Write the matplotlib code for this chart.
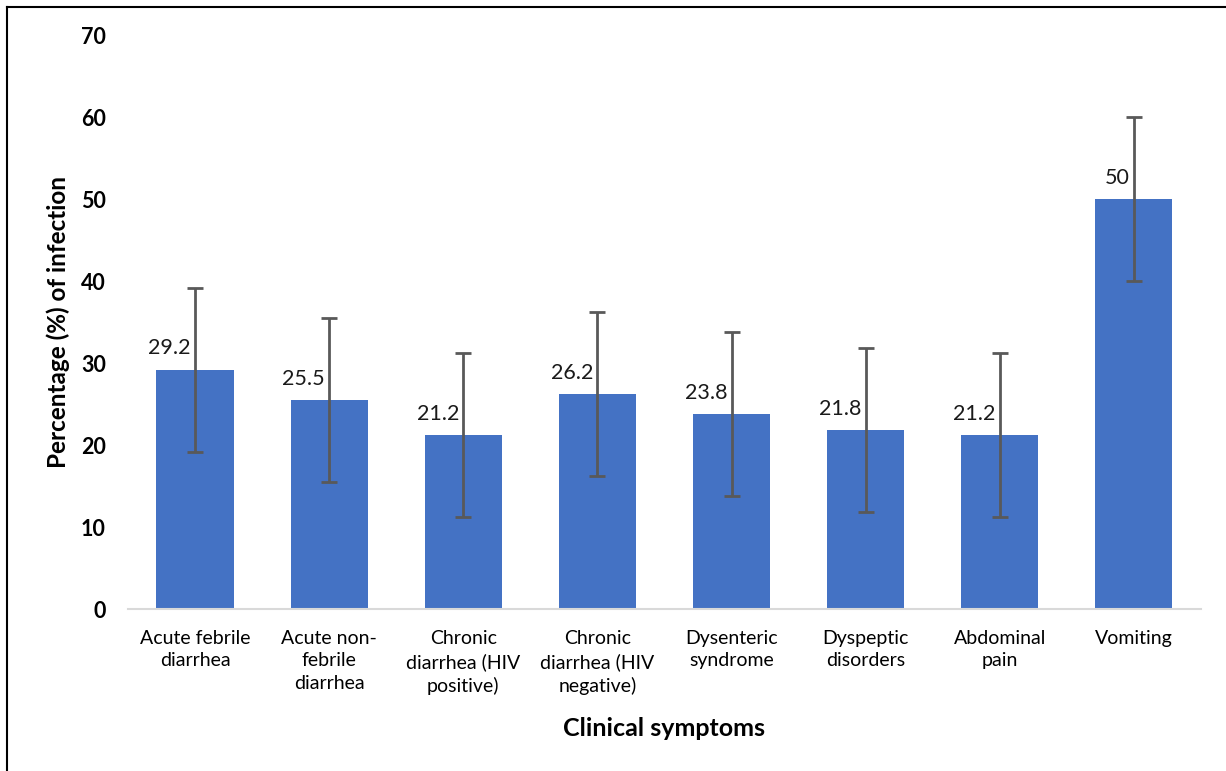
import matplotlib
matplotlib.use("Agg")
import matplotlib.pyplot as plt
from matplotlib.lines import Line2D
import numpy as np

categories = ["Acute febrile\ndiarrhea", "Acute non-\nfebrile\ndiarrhea",
              "Chronic\ndiarrhea (HIV\npositive)", "Chronic\ndiarrhea (HIV\nnegative)",
              "Dysenteric\nsyndrome", "Dyspeptic\ndisorders", "Abdominal\npain", "Vomiting"]
values = [29.2, 25.5, 21.2, 26.2, 23.8, 21.8, 21.2, 50]
errors = [10, 10, 10, 10, 10, 10, 10, 10]
value_labels = ["29.2", "25.5", "21.2", "26.2", "23.8", "21.8", "21.2", "50"]

plt.rcParams['font.family'] = ['Lato', 'DejaVu Sans']

fig = plt.figure(figsize=(12.26, 7.71), dpi=100)
ax = fig.add_axes([0.1044, 0.2101, 0.8752, 0.7445])

x = np.arange(len(categories))
ax.bar(x, values, width=0.575, color="#4472C4", zorder=2)
ax.errorbar(x, values, yerr=errors, fmt="none", ecolor="#595959",
            elinewidth=2, capsize=6, capthick=2, zorder=3)

for xi, v, lab in zip(x, values, value_labels):
    ax.annotate(lab, (xi, v), xytext=(-3, 8), textcoords="offset points",
                ha="right", va="bottom", fontsize=15.5, color="#1a1a1a")

ax.set_xlim(-0.5, len(categories) - 0.5)
ax.set_ylim(0, 70)
ax.set_yticks(range(0, 71, 10))
ax.set_xticks(x)
ax.set_xticklabels(categories, fontsize=14, linespacing=1.4)
for t in ax.get_yticklabels():
    t.set_fontweight("bold")
    t.set_fontsize(15.5)
ax.tick_params(axis="y", length=0, pad=16)
ax.tick_params(axis="x", length=0, pad=15)

for s in ["top", "right", "left"]:
    ax.spines[s].set_visible(False)
ax.spines["bottom"].set_color("#d9d9d9")
ax.spines["bottom"].set_linewidth(1.5)

ax.set_ylabel("Percentage (%) of infection", fontsize=17.5, fontweight="bold", labelpad=8)
ax.set_xlabel("Clinical symptoms", fontsize=18, fontweight="bold", labelpad=16)

# outer frame (top and left edges)
fig.add_artist(Line2D([7 / 1226, 1], [1 - 7 / 771, 1 - 7 / 771], color="black", lw=1.5,
                      transform=fig.transFigure))
fig.add_artist(Line2D([7 / 1226, 7 / 1226], [0, 1 - 7 / 771], color="black", lw=1.5,
                      transform=fig.transFigure))

fig.savefig("out.png", dpi=100, facecolor="white")
